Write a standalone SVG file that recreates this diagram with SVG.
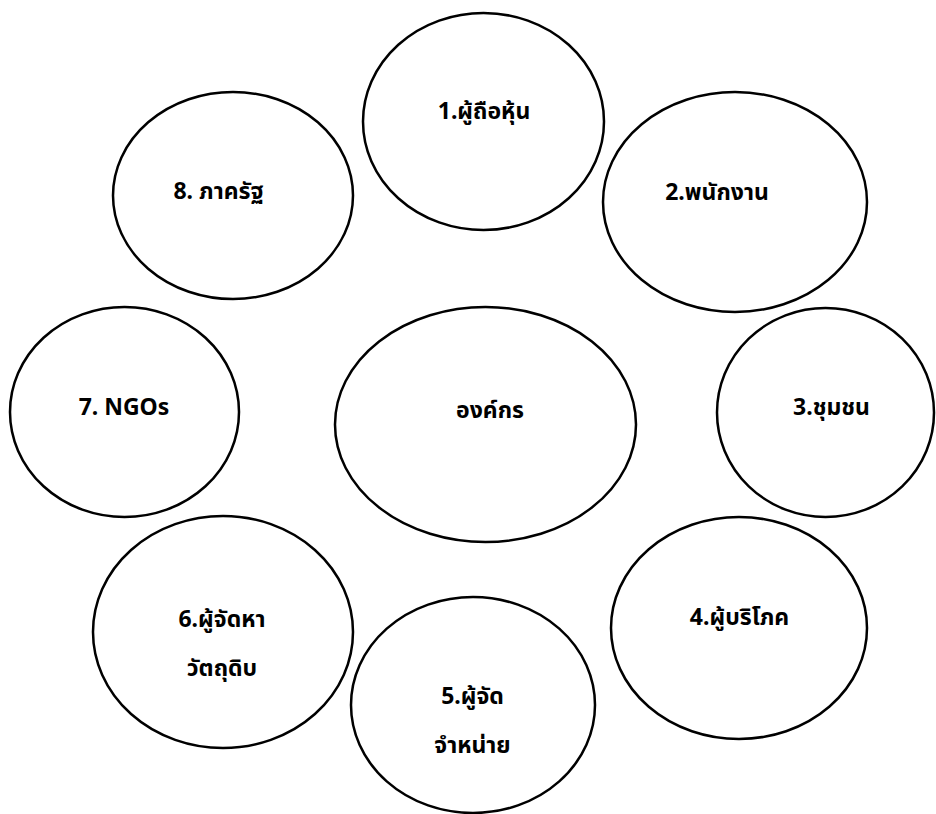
<svg xmlns="http://www.w3.org/2000/svg" width="936" height="814" viewBox="0 0 936 814">
<style>
.node ellipse{fill:#ffffff;stroke:#000000;stroke-width:2.5}
.node text{font-family:"Noto Sans","Noto Sans Thai","DejaVu Sans",sans-serif;font-size:23px;font-weight:bold;fill:#000000;text-anchor:middle}
</style>
<rect width="936" height="814" fill="#ffffff"/>
<g id="connectors"></g>
<g id="n1" class="node"><ellipse cx="483.5" cy="121.5" rx="120.5" ry="108.5"/><text x="484" y="119">1.ผู้ถือหุ้น</text></g>
<g id="n2" class="node"><ellipse cx="735" cy="202" rx="132" ry="110"/><text x="717" y="200">2.พนักงาน</text></g>
<g id="n3" class="node"><ellipse cx="825.5" cy="412.5" rx="108.5" ry="104.5"/><text x="831.5" y="415">3.ชุมชน</text></g>
<g id="n4" class="node"><ellipse cx="739" cy="628" rx="128" ry="111"/><text x="739.5" y="625">4.ผู้บริโภค</text></g>
<g id="n5" class="node"><ellipse cx="473" cy="705" rx="122" ry="108"/><text x="472.5" y="704">5.ผู้จัด</text><text x="472.5" y="753">จำหน่าย</text></g>
<g id="n6" class="node"><ellipse cx="223" cy="632" rx="130" ry="116"/><text x="222" y="627">6.ผู้จัดหา</text><text x="222" y="676">วัตถุดิบ</text></g>
<g id="n7" class="node"><ellipse cx="124.5" cy="412" rx="114.5" ry="105"/><text x="124" y="415">7. NGOs</text></g>
<g id="n8" class="node"><ellipse cx="233" cy="195.5" rx="120" ry="103.5"/><text x="218.5" y="199">8. ภาครัฐ</text></g>
<g id="center" class="node"><ellipse cx="485.5" cy="424.5" rx="150.5" ry="117.5"/><text x="490" y="418">องค์กร</text></g>
</svg>
